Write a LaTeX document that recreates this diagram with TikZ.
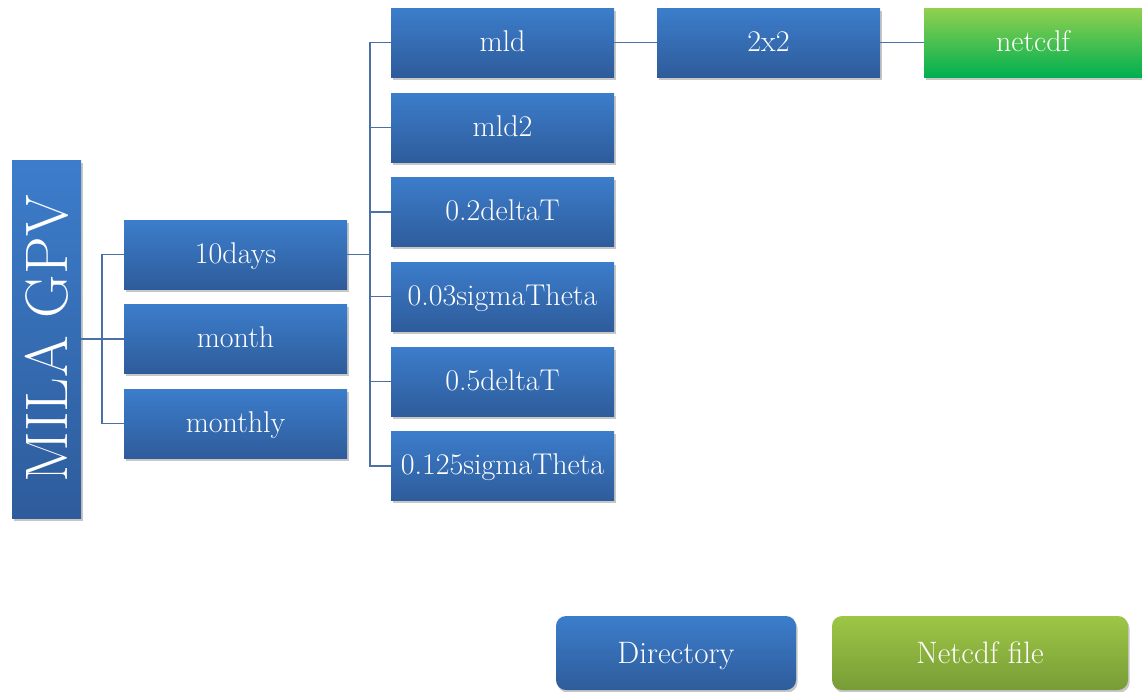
\documentclass[tikz,border=0pt]{standalone}
\usetikzlibrary{shadows,calc}
\definecolor{btop}{HTML}{3C7DCB}
\definecolor{bbot}{HTML}{2E5C9B}
\definecolor{gtop}{HTML}{92D050}
\definecolor{gbot}{HTML}{00B050}
\definecolor{ltop}{HTML}{9DC646}
\definecolor{lbot}{HTML}{789C36}
\definecolor{conn}{HTML}{4B70A6}
\tikzset{
  dirbox/.style={rectangle, inner sep=0pt, outer sep=0pt, minimum width=223pt, minimum height=69pt,
    top color=btop, bottom color=bbot, text=white, font=\fontsize{30}{34}\selectfont,
    text height=21pt, text depth=4pt,
    drop shadow={shadow xshift=1.5pt, shadow yshift=-2.5pt, fill=black, opacity=0.22}},
  filebox/.style={dirbox, top color=gtop, bottom color=gbot},
  legbox/.style={dirbox, rounded corners=10pt, minimum height=74pt, font=\fontsize{31}{35}\selectfont,
    text height=22pt, text depth=2pt},
  legfile/.style={legbox, top color=ltop, bottom color=lbot},
  conline/.style={draw=conn, line width=1.5pt}
}
\begin{document}
\begin{tikzpicture}[x=1pt,y=-1pt]
\useasboundingbox (0,0) rectangle (1142,691);
% root
\node[dirbox, minimum width=69pt, minimum height=358pt, text height=, text depth=, font=\fontsize{60}{66}\selectfont] (mila) at (46.5,339) {\rotatebox{90}{\raisebox{-6pt}{MILA GPV}}};
% level 1
\node[dirbox] (tendays) at (235.5,254.5) {10days};
\node[dirbox] (month) at (235.5,339) {month};
\node[dirbox] (monthly) at (235.5,423.5) {monthly};
% level 2
\node[dirbox] (mld) at (502.5,42.5) {mld};
\node[dirbox] (mldtwo) at (502.5,127.5) {mld2};
\node[dirbox] (dta) at (502.5,212) {0.2deltaT};
\node[dirbox] (sta) at (502.5,296.5) {0.03sigmaTheta};
\node[dirbox] (dtb) at (502.5,381.5) {0.5deltaT};
\node[dirbox] (stb) at (502.5,466) {0.125sigmaTheta};
% level 3
\node[dirbox] (twobytwo) at (768.5,42.5) {2x2};
\node[filebox, minimum width=218pt] (netcdf) at (1033,42.5) {netcdf};
% legend
\node[legbox, minimum width=240pt] (legdir) at (676,653) {Directory};
\node[legfile, minimum width=296pt] (legnc) at (980,653) {Netcdf file};
% connectors
\coordinate (ja) at (102,339);
\coordinate (jb) at (370,254.5);
\draw[conline] (mila.east) -- (ja);
\draw[conline] (ja) |- (tendays.west);
\draw[conline] (ja) |- (month.west);
\draw[conline] (ja) |- (monthly.west);
\draw[conline] (tendays.east) -- (jb);
\draw[conline] (jb) |- (mld.west);
\draw[conline] (jb) |- (mldtwo.west);
\draw[conline] (jb) |- (dta.west);
\draw[conline] (jb) |- (sta.west);
\draw[conline] (jb) |- (dtb.west);
\draw[conline] (jb) |- (stb.west);
\draw[conline] (mld.east) -- (twobytwo.west);
\draw[conline] (twobytwo.east) -- (netcdf.west);
\end{tikzpicture}
\end{document}
